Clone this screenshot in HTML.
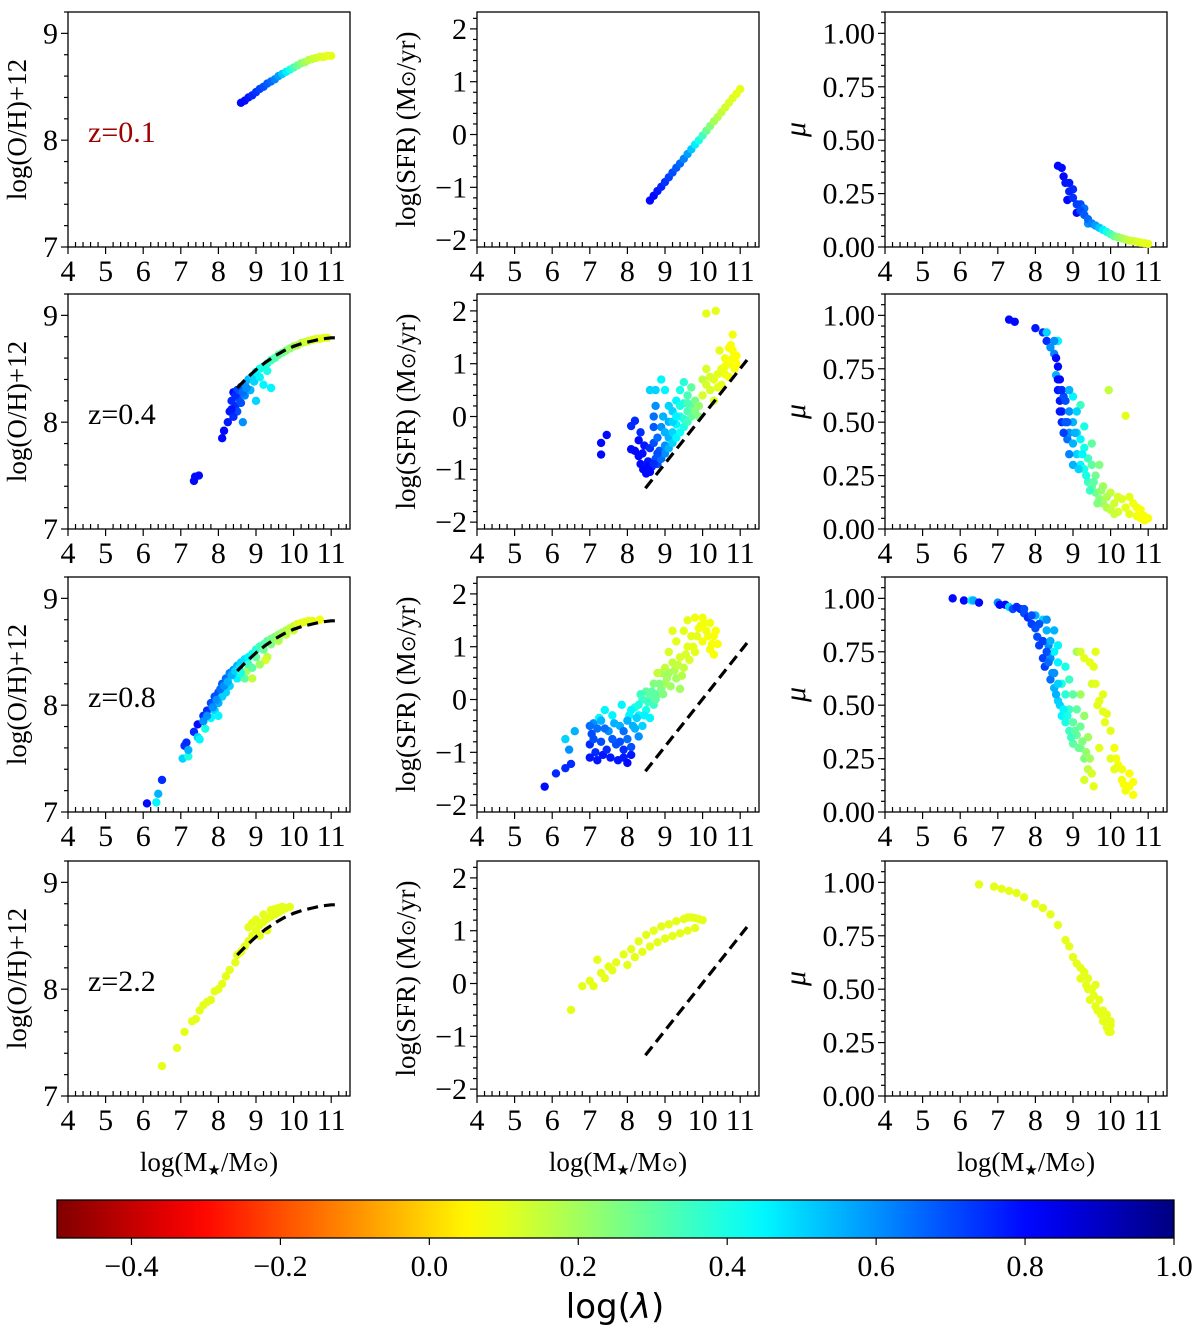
<!DOCTYPE html>
<html><head><meta charset="utf-8"><style>
html,body{margin:0;padding:0;background:#fff}
svg{display:block;font-family:"Liberation Serif",serif}
</style></head><body>
<svg id="fig" width="1200" height="1338" viewBox="0 0 1200 1338" xmlns="http://www.w3.org/2000/svg">
<defs><linearGradient id="jetr" x1="0" x2="1" y1="0" y2="0"></linearGradient></defs>
</svg>
<script>
// ---- data ----
const zLabels = ["z=0.1","z=0.4","z=0.8","z=2.2"];
const xTicks = [4,5,6,7,8,9,10,11];
const ohTicks = [7,8,9];
const sfrTicks = [-2,-1,0,1,2];
const muTicks = [0,0.25,0.5,0.75,1.0];
const muTickLabels = ["0.00","0.25","0.50","0.75","1.00"];
const cbTicks = [-0.4,-0.2,0.0,0.2,0.4,0.6,0.8,1.0];
const cbTickLabels = ["\u22120.4","\u22120.2","0.0","0.2","0.4","0.6","0.8","1.0"];
const dashOHx = [8.5,8.75,9,9.25,9.5,9.75,10,10.25,10.5,10.75,11,11.2];
const dashOHy = [8.32,8.41,8.49,8.56,8.62,8.67,8.71,8.74,8.76,8.78,8.79,8.79];
const dashSFRx = [8.48,11.18];
const dashSFRy = [-1.36,1.07];
// row 1 (z=0.1)
const r1x = [8.6,8.7,8.8,8.9,9.0,9.1,9.2,9.3,9.4,9.5,9.6,9.7,9.8,9.9,10.0,10.1,10.2,10.3,10.4,10.5,10.6,10.7,10.8,10.9,11.0];
const r1oh = [8.35,8.37,8.4,8.42,8.45,8.48,8.5,8.53,8.55,8.57,8.6,8.62,8.64,8.66,8.68,8.7,8.72,8.73,8.75,8.76,8.77,8.78,8.78,8.79,8.79];
const r1sfr = [-1.25,-1.16,-1.07,-0.99,-0.9,-0.81,-0.72,-0.63,-0.55,-0.46,-0.37,-0.28,-0.19,-0.11,-0.02,0.07,0.16,0.25,0.33,0.42,0.51,0.6,0.69,0.77,0.86];
const r1mu = [0.38,0.37,0.3,0.26,0.23,0.2,0.17,0.15,0.13,0.11,0.1,0.09,0.08,0.07,0.06,0.05,0.045,0.04,0.035,0.03,0.028,0.025,0.02,0.018,0.015];
const r1c = [0.8,0.8,0.78,0.76,0.74,0.72,0.7,0.68,0.66,0.62,0.58,0.52,0.46,0.4,0.34,0.28,0.24,0.2,0.17,0.15,0.13,0.12,0.11,0.1,0.1];
const r1muExtra = [[8.75,0.33,.8],[8.9,0.3,.78],[9.0,0.27,.75],[9.1,0.16,.8],[8.85,0.22,.8],[9.2,0.2,.7],[9.3,0.18,.65],[9.4,0.11,.6]];
// row 2 (z=0.4)
const r2oh = [[7.35,7.45,.8],[7.38,7.49,.8],[7.48,7.5,.8],[8.1,7.85,.8],[8.15,7.92,.8],[8.25,8.0,.78],[8.3,8.1,.78],[8.35,8.2,.75],[8.4,8.28,.8],[8.45,8.15,.75],[8.5,8.3,.72],[8.55,8.22,.7],[8.6,8.33,.65],[8.6,8.18,.7],[8.7,8.36,.6],[8.7,8.25,.62],[8.8,8.4,.55],[8.85,8.3,.55],[8.9,8.43,.5],[9.0,8.47,.45],[9.0,8.2,.5],[9.1,8.5,.42],[9.2,8.52,.4],[9.2,8.35,.45],[9.3,8.55,.38],[9.4,8.58,.35],[9.4,8.32,.45],[9.5,8.6,.32],[9.6,8.63,.3],[9.7,8.65,.28],[9.8,8.67,.25],[9.9,8.69,.22],[10.0,8.71,.2],[10.1,8.72,.18],[10.2,8.74,.16],[10.3,8.75,.14],[10.4,8.76,.13],[10.5,8.77,.12],[10.6,8.78,.11],[10.7,8.78,.1],[10.8,8.79,.1],[10.9,8.79,.1],[8.5,8.1,.7],[8.4,8.05,.75],[8.65,8.0,.6],[8.45,8.25,.75],[8.55,8.3,.7],[8.65,8.28,.65],[8.75,8.32,.6],[8.95,8.38,.5],[9.1,8.42,.45],[9.3,8.48,.4],[8.35,8.12,.78]];
const r2sfr = [[7.3,-0.72,.8],[7.3,-0.5,.8],[7.45,-0.35,.8],[8.1,-0.18,.75],[8.2,-0.08,.75],[8.1,-0.62,.8],[8.2,-0.65,.8],[8.3,-0.45,.8],[8.35,-0.3,.75],[8.3,-0.75,.8],[8.35,-0.9,.8],[8.42,-1.0,.8],[8.5,-1.08,.8],[8.45,-0.55,.78],[8.55,-0.85,.78],[8.6,-0.6,.75],[8.65,-0.95,.75],[8.7,-0.5,.7],[8.75,-0.8,.7],[8.8,-0.4,.65],[8.85,-0.65,.68],[8.7,0.0,.65],[8.7,-0.2,.68],[8.75,0.2,.6],[8.6,0.5,.5],[8.75,0.5,.5],[8.9,0.7,.45],[9.0,0.5,.45],[8.9,-0.2,.6],[9.0,-0.55,.6],[9.1,-0.1,.55],[9.1,-0.4,.55],[9.2,0.1,.5],[9.2,-0.3,.5],[9.3,0.3,.45],[9.3,-0.15,.45],[9.4,0.5,.4],[9.4,0.0,.4],[9.5,0.65,.38],[9.5,-0.05,.38],[9.5,0.25,.38],[9.6,0.1,.33],[9.6,0.4,.33],[9.7,0.55,.3],[9.7,0.2,.3],[9.8,0.05,.27],[9.8,0.3,.27],[9.9,0.2,.22],[10.0,0.7,.15],[10.1,0.9,.12],[10.2,0.5,.12],[10.3,0.7,.1],[10.3,0.3,.12],[10.4,0.55,.1],[10.5,0.9,.1],[10.5,0.6,.1],[10.6,0.8,.08],[10.6,1.1,.08],[10.7,1.0,.07],[10.7,1.3,.07],[10.8,1.55,.08],[10.8,1.1,.07],[10.85,0.9,.07],[10.9,1.15,.06],[10.75,1.35,.07],[10.1,1.95,.1],[10.35,2.0,.1],[10.45,1.25,.1],[10.2,0.75,.12],
[8.8,-0.9,.7],[8.9,-0.8,.65],[9.0,-0.7,.6],[9.1,-0.6,.55],[9.2,-0.5,.5],[9.3,-0.4,.45],[9.4,-0.3,.42],[9.5,-0.2,.4],[9.6,-0.1,.35],[9.7,0.0,.3],[9.8,0.1,.25],[9.9,0.0,.25],[9.0,-0.3,.55],[9.2,-0.1,.5],[9.4,0.2,.4],[9.6,0.25,.33],[9.1,0.2,.5],[9.3,0.0,.45],[8.95,0.0,.55],[10.0,0.4,.12],[10.1,0.6,.12],[10.4,0.8,.1],[10.6,0.95,.08],[10.8,1.25,.07],[10.9,1.0,.06],[10.7,0.75,.08],[8.55,-0.95,.8],[8.6,-1.05,.8],[8.4,-0.7,.8],[8.7,-0.9,.75],[8.8,-0.7,.7]];
const r2mu = [[7.3,0.98,.8],[7.45,0.97,.8],[8.0,0.94,.78],[8.2,0.92,.75],[8.3,0.88,.75],[8.4,0.85,.6],[8.5,0.82,.62],[8.55,0.8,.8],[8.6,0.76,.8],[8.65,0.7,.8],[8.6,0.65,.78],[8.65,0.6,.78],[8.7,0.55,.75],[8.7,0.5,.75],[8.75,0.62,.7],[8.8,0.5,.68],[8.85,0.42,.65],[8.9,0.55,.6],[8.9,0.45,.6],[9.0,0.4,.55],[9.0,0.5,.55],[9.1,0.35,.5],[9.1,0.45,.5],[9.2,0.3,.45],[9.2,0.42,.45],[9.3,0.28,.4],[9.3,0.38,.4],[9.4,0.22,.35],[9.4,0.33,.35],[9.5,0.2,.3],[9.5,0.3,.3],[9.6,0.17,.27],[9.6,0.25,.27],[9.7,0.14,.24],[9.8,0.12,.2],[9.8,0.2,.2],[9.9,0.1,.18],[10.0,0.09,.15],[10.0,0.17,.15],[10.1,0.12,.13],[10.2,0.08,.12],[10.3,0.14,.11],[10.4,0.1,.1],[10.5,0.07,.1],[10.6,0.12,.08],[10.7,0.06,.08],[10.8,0.05,.07],[10.9,0.04,.07],[9.95,0.65,.15],[10.4,0.53,.1],[8.3,0.92,.5],[8.6,0.88,.45],[8.55,0.72,.55],[9.0,0.62,.45],[9.2,0.58,.35],
[8.6,0.7,.8],[8.65,0.55,.78],[8.7,0.65,.75],[8.75,0.45,.72],[8.8,0.6,.7],[8.85,0.5,.68],[8.9,0.35,.62],[9.0,0.3,.55],[9.05,0.45,.55],[9.15,0.28,.5],[9.25,0.35,.45],[9.35,0.25,.4],[9.45,0.18,.35],[9.55,0.22,.3],[9.65,0.12,.25],[9.75,0.18,.22],[9.9,0.15,.18],[10.1,0.07,.14],[10.2,0.15,.12],[10.5,0.15,.1],[10.7,0.1,.08],[10.8,0.09,.07],[10.9,0.06,.07],[11.0,0.05,.07],[9.1,0.55,.5],[9.3,0.48,.4],[9.5,0.4,.3],[9.7,0.3,.25],[8.9,0.65,.55],[8.5,0.88,.6]];
// row 3 (z=0.8)
const r3oh = [[6.1,7.08,.8],[6.35,7.09,.45],[6.4,7.17,.55],[6.5,7.3,.75],[7.05,7.5,.5],[7.1,7.62,.75],[7.15,7.65,.75],[7.2,7.52,.4],[7.2,7.58,.55],[7.35,7.75,.75],[7.45,7.7,.5],[7.5,7.68,.45],[7.45,7.82,.8],[7.6,7.9,.75],[7.65,7.78,.4],[7.7,7.95,.75],[7.8,8.02,.7],[7.8,7.88,.45],[7.9,8.08,.7],[7.9,7.95,.5],[8.0,8.12,.7],[8.0,8.02,.55],[8.1,8.2,.68],[8.1,8.08,.5],[8.2,8.25,.65],[8.2,8.12,.5],[8.3,8.3,.62],[8.3,8.18,.5],[8.4,8.33,.6],[8.5,8.37,.55],[8.5,8.25,.45],[8.6,8.4,.5],[8.7,8.43,.48],[8.7,8.25,.3],[8.8,8.45,.45],[8.9,8.48,.42],[8.9,8.25,.15],[9.0,8.52,.38],[9.1,8.55,.35],[9.2,8.57,.32],[9.3,8.6,.3],[9.3,8.45,.15],[9.25,8.42,.12],[9.4,8.62,.27],[9.5,8.64,.25],[9.6,8.66,.22],[9.6,8.6,.15],[9.7,8.68,.2],[9.8,8.7,.18],[9.9,8.72,.16],[10.0,8.74,.14],[10.1,8.76,.12],[10.2,8.77,.1],[10.3,8.78,.1],[10.4,8.79,.1],[10.5,8.79,.1],[10.7,8.8,.08],[8.75,8.32,.2],[9.1,8.38,.2],
[7.6,7.85,.6],[7.7,7.9,.6],[7.85,7.98,.6],[7.95,8.05,.6],[8.05,8.15,.65],[8.15,8.18,.6],[8.25,8.22,.55],[8.35,8.28,.55],[8.45,8.32,.5],[8.55,8.35,.48],[8.6,8.3,.4],[8.8,8.38,.35],[9.0,8.45,.3],[9.2,8.52,.28],[9.4,8.57,.25],[9.6,8.62,.2],[9.8,8.66,.16],[10.0,8.7,.14],[8.9,8.35,.3],[8.0,7.9,.45]];
const r3sfr = [[5.8,-1.65,.8],[6.1,-1.4,.75],[6.35,-1.3,.75],[6.5,-1.22,.75],[6.35,-0.75,.5],[6.45,-0.95,.6],[6.6,-0.6,.55],[7.0,-0.85,.75],[7.05,-0.65,.7],[7.1,-0.45,.6],[7.15,-1.0,.75],[7.25,-0.35,.45],[7.3,-0.8,.7],[7.35,-1.05,.78],[7.4,-0.2,.45],[7.5,-0.6,.6],[7.55,-1.1,.78],[7.6,-0.3,.45],[7.7,-0.85,.7],[7.75,-1.15,.78],[7.8,-0.5,.55],[7.85,-0.1,.45],[7.9,-1.1,.78],[8.0,-0.75,.65],[8.0,-1.2,.8],[8.05,-0.3,.45],[8.1,-0.9,.7],[8.2,-0.55,.55],[8.2,-0.15,.4],[8.3,-0.3,.45],[8.3,-0.7,.6],[8.4,0.0,.35],[8.4,-0.5,.5],[8.5,-0.2,.4],[8.5,0.15,.3],[8.6,0.05,.3],[8.6,-0.35,.45],[8.7,0.3,.25],[8.7,-0.1,.35],[8.8,0.1,.3],[8.9,0.2,.25],[8.9,0.5,.2],[9.0,0.3,.2],[9.0,0.6,.15],[9.1,0.5,.2],[9.1,0.9,.12],[9.2,0.7,.15],[9.3,1.1,.1],[9.3,0.4,.2],[9.4,0.8,.12],[9.5,1.3,.1],[9.5,0.6,.15],[9.6,1.0,.1],[9.6,1.5,.1],[9.7,1.2,.1],[9.8,1.55,.08],[9.8,0.9,.1],[9.9,1.35,.08],[10.0,1.55,.08],[10.0,1.1,.08],[10.1,1.3,.08],[10.2,1.45,.08],[10.2,0.95,.08],[10.3,1.2,.07],[10.3,0.85,.07],[10.35,1.3,.07],[10.4,1.05,.07],[9.2,1.3,.1],[8.8,0.5,.15],[9.4,0.2,.2],[7.4,-0.55,.65],[7.1,-0.75,.7],
[7.8,-0.8,.7],[7.9,-0.6,.65],[8.0,-0.4,.55],[8.1,-0.2,.45],[8.15,-0.5,.55],[8.25,-0.35,.5],[8.3,-0.1,.4],[8.35,0.1,.35],[8.45,-0.3,.45],[8.55,-0.05,.35],[8.65,0.15,.3],[8.75,0.0,.3],[8.85,0.3,.25],[8.95,0.1,.25],[9.05,0.4,.2],[9.15,0.25,.2],[9.25,0.55,.18],[9.35,0.65,.15],[9.45,0.45,.17],[9.55,0.85,.12],[9.65,0.75,.12],[9.75,1.0,.1],[9.85,1.2,.1],[9.95,1.4,.08],[10.05,1.45,.08],[10.15,1.2,.08],[10.25,1.05,.07],[7.2,-0.55,.65],[7.3,-0.4,.55],[7.6,-0.75,.68],[7.65,-0.45,.55],[7.9,-0.95,.75],[8.1,-1.05,.78],[7.45,-0.95,.75],[7.0,-1.1,.78],[7.2,-1.15,.78],[7.0,-0.5,.65]];
const r3mu = [[5.8,1.0,.8],[6.1,0.99,.8],[6.3,0.99,.45],[6.35,0.99,.55],[6.5,0.98,.8],[7.0,0.98,.6],[7.05,0.97,.8],[7.2,0.97,.8],[7.3,0.96,.5],[7.4,0.95,.7],[7.6,0.95,.75],[7.7,0.93,.7],[7.8,0.91,.75],[7.9,0.88,.72],[8.0,0.86,.7],[8.05,0.82,.7],[8.1,0.78,.72],[8.2,0.72,.72],[8.25,0.68,.72],[8.0,0.92,.55],[8.2,0.9,.5],[8.3,0.85,.55],[8.35,0.78,.6],[8.4,0.72,.6],[8.45,0.65,.6],[8.5,0.58,.55],[8.5,0.75,.45],[8.6,0.7,.45],[8.6,0.52,.5],[8.7,0.6,.4],[8.7,0.45,.45],[8.8,0.55,.38],[8.8,0.42,.4],[8.9,0.48,.35],[8.9,0.38,.35],[9.0,0.42,.3],[9.0,0.32,.3],[9.1,0.36,.28],[9.2,0.3,.25],[9.2,0.4,.28],[9.3,0.25,.25],[9.1,0.75,.2],[9.2,0.75,.12],[9.3,0.72,.1],[9.6,0.75,.1],[9.55,0.68,.1],[9.7,0.52,.1],[9.8,0.47,.1],[10.0,0.38,.1],[10.1,0.3,.08],[10.2,0.22,.08],[10.3,0.2,.08],[9.5,0.6,.12],[9.6,0.6,.1],[9.8,0.55,.1],[9.9,0.46,.1],[10.0,0.25,.1],[10.1,0.2,.1],[10.3,0.15,.08],[10.4,0.1,.08],[10.5,0.12,.07],[10.6,0.08,.07],[10.6,0.14,.07],[9.4,0.2,.15],[9.5,0.18,.12],[9.7,0.3,.1],[9.4,0.35,.2],[9.2,0.55,.2],[9.3,0.45,.22],[8.9,0.62,.35],
[7.9,0.92,.7],[8.1,0.88,.7],[8.2,0.8,.72],[8.3,0.75,.7],[8.35,0.7,.65],[8.4,0.62,.65],[8.5,0.65,.6],[8.55,0.55,.55],[8.6,0.6,.5],[8.65,0.5,.5],[8.75,0.48,.45],[8.85,0.45,.4],[8.95,0.35,.35],[9.05,0.38,.3],[9.15,0.3,.28],[9.25,0.33,.25],[9.35,0.28,.22],[9.45,0.25,.2],[8.4,0.8,.55],[8.6,0.78,.45],[8.8,0.68,.4],[9.0,0.55,.3],[9.1,0.48,.3],[8.3,0.9,.6],[8.5,0.85,.55],[7.5,0.96,.75],[7.7,0.95,.7],[9.45,0.7,.1],[9.65,0.5,.1],[9.85,0.42,.1],[10.15,0.25,.08],[10.35,0.13,.07],[10.5,0.18,.07],[9.3,0.15,.12],[9.55,0.12,.1]];
// row 4 (z=2.2)
const r4oh = [[6.5,7.28,.1],[6.9,7.45,.1],[7.1,7.6,.1],[7.3,7.7,.1],[7.5,7.8,.1],[7.6,7.85,.1],[7.8,7.9,.1],[7.9,7.98,.1],[8.1,8.05,.1],[8.2,8.12,.1],[8.3,8.18,.1],[8.45,8.25,.1],[8.5,8.32,.1],[8.6,8.35,.1],[8.7,8.4,.1],[8.8,8.45,.1],[8.9,8.5,.1],[9.0,8.55,.1],[9.1,8.6,.1],[9.2,8.63,.1],[9.3,8.66,.1],[9.4,8.68,.1],[9.5,8.7,.1],[9.6,8.72,.1],[9.7,8.74,.1],[9.8,8.76,.1],[9.9,8.77,.1],[9.0,8.65,.1],[9.2,8.7,.1],[9.4,8.74,.1],[9.6,8.76,.1],[8.8,8.58,.1],[9.1,8.5,.1],[9.3,8.55,.1],[7.4,7.72,.1],[8.0,8.0,.1],[7.7,7.88,.1],[8.9,8.62,.1],[9.5,8.75,.1],[9.7,8.77,.1]];
const r4sfr = [[6.5,-0.5,.1],[6.8,-0.05,.1],[7.0,0.05,.1],[7.1,-0.05,.1],[7.3,0.2,.1],[7.4,0.1,.1],[7.5,0.32,.1],[7.7,0.4,.1],[7.9,0.55,.1],[8.1,0.65,.1],[8.2,0.5,.1],[8.3,0.8,.1],[8.4,0.6,.1],[8.5,0.92,.1],[8.6,0.7,.1],[8.7,1.0,.1],[8.8,0.78,.1],[8.9,1.08,.1],[9.0,0.85,.1],[9.1,1.12,.1],[9.2,0.9,.1],[9.3,1.18,.1],[9.4,0.95,.1],[9.5,1.22,.1],[9.6,1.0,.1],[9.7,1.25,.1],[9.8,1.05,.1],[9.9,1.22,.1],[10.0,1.2,.1],[9.6,1.25,.1],[9.8,1.24,.1],[7.2,0.45,.1],[7.6,0.25,.1],[8.0,0.35,.1]];
const r4mu = [[6.5,0.99,.1],[6.9,0.98,.1],[7.1,0.97,.1],[7.3,0.96,.1],[7.5,0.95,.1],[7.7,0.93,.1],[8.0,0.9,.1],[8.2,0.88,.1],[8.4,0.85,.1],[8.6,0.8,.1],[8.8,0.73,.1],[9.0,0.65,.1],[9.2,0.55,.1],[9.4,0.5,.1],[9.6,0.42,.1],[9.8,0.35,.1],[10.0,0.3,.1],[9.3,0.58,.1],[9.5,0.5,.1],[9.7,0.45,.1],[9.9,0.38,.1],[10.0,0.33,.1],[9.6,0.52,.1],[9.8,0.4,.1],[9.9,0.32,.1],[10.0,0.35,.1],[9.2,0.6,.1],[9.4,0.55,.1],[9.1,0.62,.1],[8.9,0.7,.1],[9.55,0.47,.1],[9.65,0.4,.1],[9.75,0.38,.1],[9.85,0.36,.1],[9.95,0.3,.1],[9.45,0.45,.1],[9.35,0.52,.1]];

// ---- layout ----
const NS = "http://www.w3.org/2000/svg";
const svg = document.getElementById("fig");
const colLeft = [68, 477, 885], panelW = 282;
const rowBottom = [247, 529, 812, 1096], panelH = 235;
const xDom = [4, 11.5];
const yDoms = [[7, 9.2], [-2.13, 2.32], [0, 1.1]];

function el(tag, attrs, parent){ const e=document.createElementNS(NS,tag); for(const k in attrs) e.setAttribute(k,attrs[k]); (parent||svg).appendChild(e); return e; }
function jet(t){ const cl=v=>Math.max(0,Math.min(1,v));
  return [cl(1.5-Math.abs(4*t-3)), cl(1.5-Math.abs(4*t-2)), cl(1.5-Math.abs(4*t-1))]; }
function cmap(c){ const t=(1-c)/1.5; const [r,g,b]=jet(Math.max(0,Math.min(1,t))); return `rgb(${Math.round(r*255)},${Math.round(g*255)},${Math.round(b*255)})`; }

function axes(row, col){
  const L=colLeft[col], B=rowBottom[row], T=B-panelH;
  const sx=v=>L+(v-xDom[0])/(xDom[1]-xDom[0])*panelW;
  const d=yDoms[col]; const sy=v=>B-(v-d[0])/(d[1]-d[0])*panelH;
  const g=el("g",{});
  
  
  const fr=el("rect",{x:L,y:T,width:panelW,height:panelH,fill:"none",stroke:"#000","stroke-width":1.3},g);
  
  
  for(let v=4; v<=11.41; v+=0.2){ const x=sx(v); const major=Math.abs(v-Math.round(v))<1e-6;
    el("line",{x1:x,x2:x,y1:B,y2:major?B+7:B-5,stroke:"#000","stroke-width":1.2},g); }
  xTicks.forEach(v=>{ const t=el("text",{x:sx(v),y:B+34,"font-size":30,"text-anchor":"middle"},g); t.textContent=v;
    
     });
  let ticks, labels, minor;
  if(col===0){ticks=ohTicks; labels=ohTicks.map(String); minor=0.2;}
  else if(col===1){ticks=sfrTicks; labels=sfrTicks.map(v=>v<0?"\u2212"+(-v):String(v)); minor=0.2;}
  else {ticks=muTicks; labels=muTickLabels; minor=0.05;}
  for(let v=Math.ceil(d[0]/minor)*minor; v<=d[1]+1e-9; v+=minor){ const y=sy(v);
    if(y<T-0.5||y>B+0.5) continue;
    const major=ticks.some(t=>Math.abs(t-v)<1e-6);
    el("line",{x1:L,x2:major?L-7:L-4,y1:y,y2:y,stroke:"#000","stroke-width":1.2},g); }
  ticks.forEach((v,i)=>{ const t=el("text",{x:L-10,y:sy(v)+10,"font-size":30,"text-anchor":"end"},g); t.textContent=labels[i];
    
     });
  const cy=T+panelH/2;
  let yl;
  if(col===0){ yl=el("text",{x:0,y:0,"font-size":27,"text-anchor":"middle",transform:`translate(${L-42},${cy}) rotate(-90)`},g); yl.textContent="log(O/H)+12"; }
  else if(col===1){ yl=el("text",{x:0,y:0,"font-size":27,"text-anchor":"middle",transform:`translate(${L-62},${cy}) rotate(-90)`},g); yl.innerHTML='log(SFR) (M<tspan font-size="20">\u2299</tspan>/yr)'; }
  else { yl=el("text",{x:0,y:0,"font-size":30,"font-style":"italic","text-anchor":"middle",transform:`translate(${L-80},${cy}) rotate(-90)`},g); yl.textContent="\u03bc"; }
  
  
  if(row===3){ const xl=el("text",{x:L+panelW/2,y:B+75,"font-size":27,"text-anchor":"middle"},g);
    xl.innerHTML='log(M<tspan font-size="15" dy="4">\u2605</tspan><tspan dy="-4">/M</tspan><tspan font-size="20">\u2299</tspan>)';
    
     }
  return {sx,sy,g};
}
function scatter(ax, pts, name){
  pts.forEach(p=>{ const c=el("circle",{cx:ax.sx(p[0]),cy:ax.sy(p[1]),r:4.2,fill:cmap(p[2])},ax.g);
    
     });
}
function dashed(ax, xs, ys, name){
  const d=xs.map((x,i)=>(i?"L":"M")+ax.sx(x).toFixed(1)+","+ax.sy(ys[i]).toFixed(1)).join(" ");
  const p=el("path",{d,fill:"none",stroke:"#000","stroke-width":3.2,"stroke-dasharray":"11,6"},ax.g);
  
  
}

const ohSets=[null,r2oh,r3oh,r4oh], sfrSets=[null,r2sfr,r3sfr,r4sfr], muSets=[null,r2mu,r3mu,r4mu];
for(let r=0;r<4;r++){
  const a0=axes(r,0), a1=axes(r,1), a2=axes(r,2);
  if(r===0){
    scatter(a0, r1x.map((x,i)=>[x,r1oh[i],r1c[i]]), 'metallicity-point');
    scatter(a1, r1x.map((x,i)=>[x,r1sfr[i],r1c[i]]), 'sfr-point');
    scatter(a2, r1muExtra, 'mu-point');
    scatter(a2, r1x.map((x,i)=>[x,r1mu[i],r1c[i]]), 'mu-point');
  } else {
    scatter(a0, ohSets[r], 'metallicity-point');
    dashed(a0, dashOHx, dashOHy, 'mzr-reference-curve');
    scatter(a1, sfrSets[r], 'sfr-point');
    dashed(a1, dashSFRx, dashSFRy, 'sfms-reference-line');
    scatter(a2, muSets[r], 'mu-point');
  }
  const z=el("text",{x:88,y:rowBottom[r]-panelH+130,"font-size":30,fill:r===0?"#a00000":"#000"});
  z.textContent=zLabels[r];
  
  
}

// colorbar
const grad=document.getElementById("jetr");
for(let i=0;i<=30;i++){ const f=i/30; const c=-0.5+1.5*f; el("stop",{offset:f,"stop-color":cmap(c)},grad); }
const cbL=57, cbR=1174, cbT=1200, cbB=1238;
const cbx=v=>cbL+(v+0.5)/1.5*(cbR-cbL);
const cb=el("rect",{x:cbL,y:cbT,width:cbR-cbL,height:cbB-cbT,fill:"url(#jetr)",stroke:"#000","stroke-width":1.3});


cbTicks.forEach((v,i)=>{ const x=cbx(v);
  el("line",{x1:x,x2:x,y1:cbB,y2:cbB+7,stroke:"#000","stroke-width":1.2});
  const t=el("text",{x,y:cbB+38,"font-size":30,"text-anchor":"middle"}); t.textContent=cbTickLabels[i];
  
   });
const cbl=el("text",{x:615,y:1318,"font-size":34,"text-anchor":"middle","font-family":"DejaVu Sans, sans-serif"});
cbl.innerHTML='log(<tspan font-style="italic">\u03bb</tspan>)';


</script>
</body></html>
